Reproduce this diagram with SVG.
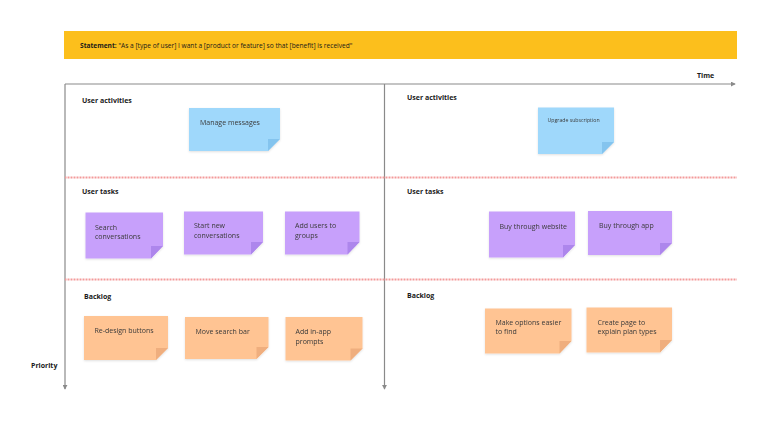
<svg xmlns="http://www.w3.org/2000/svg" width="768" height="432" viewBox="0 0 768 432">
<style>
.lbl{font-family:"Open Sans","DejaVu Sans",sans-serif;font-size:7px;font-weight:bold;fill:#1a1a1a}
.st{font-family:"Open Sans","DejaVu Sans",sans-serif;font-size:7px;fill:#3a3a3a}
.sm{font-size:5.2px}
.axis{stroke:#8a8a8a;stroke-width:1.2;fill:none}
.div{stroke:#f39a9a;stroke-width:2;stroke-dasharray:1 0.5;fill:none}
.blue .b{fill:#9fd8fb}.blue .f{fill:#84c4ee}
.purple .b{fill:#c7a0fb}.purple .f{fill:#ad86ec}
.orange .b{fill:#ffc493}.orange .f{fill:#efae7e}
.note{filter:url(#sh)}
</style>
<defs>
<marker id="ah" viewBox="0 0 6 6" refX="5" refY="3" markerWidth="5" markerHeight="5" orient="auto" markerUnits="userSpaceOnUse">
<path d="M0,0 L6,3 L0,6 Z" fill="#8a8a8a"/>
</marker>
<filter id="sh" x="-10%" y="-10%" width="120%" height="130%">
<feDropShadow dx="0" dy="1" stdDeviation="1" flood-color="#000" flood-opacity="0.12"/>
</filter>
</defs>
<rect width="768" height="432" fill="#ffffff"/>

<g id="statement">
<rect x="64" y="31" width="673" height="28" fill="#fcbf1c"/>
<text x="80" y="47.5" class="st" style="font-size:6.6px;fill:#1a1a1a"><tspan font-weight="bold">Statement:</tspan> "As a [type of user] I want a [product or feature] so that [benefit] is received"</text>
</g>

<g id="connectors">
<line class="axis" x1="65" y1="84" x2="735" y2="84" marker-end="url(#ah)"/>
<line class="axis" x1="65" y1="84" x2="65" y2="389" marker-end="url(#ah)"/>
<line class="axis" x1="384.5" y1="84" x2="384.5" y2="389" marker-end="url(#ah)"/>
<line class="div" x1="65" y1="177.5" x2="737" y2="177.5"/>
<line class="div" x1="65" y1="279.5" x2="737" y2="279.5"/>
</g>

<g id="axis-labels">
<text x="697" y="78" class="lbl">Time</text>
<text x="31" y="367.5" class="lbl">Priority</text>
</g>

<g id="section-labels">
<text x="82" y="102.5" class="lbl">User activities</text>
<text x="407" y="100" class="lbl">User activities</text>
<text x="82" y="194" class="lbl">User tasks</text>
<text x="407" y="193.5" class="lbl">User tasks</text>
<text x="84" y="298.5" class="lbl">Backlog</text>
<text x="407" y="297.5" class="lbl">Backlog</text>
</g>

<g id="manage-messages" class="note blue">
<path class="b" d="M189,108 H280 V139 L268,151 H189 Z"/>
<path class="f" d="M280,139 L268,151 L268,139 Z"/>
<text x="200" y="124.5" class="st">Manage messages</text>
</g>

<g id="upgrade-subscription" class="note blue">
<path class="b" d="M538,107.5 H614 V142 L602,154 H538 Z"/>
<path class="f" d="M614,142 L602,154 L602,142 Z"/>
<text x="547.5" y="122" class="st sm">Upgrade subscription</text>
</g>

<g id="search-conversations" class="note purple">
<path class="b" d="M85.5,212.5 H163 V246 L151,258.5 H85.5 Z"/>
<path class="f" d="M163,246 L151,258.5 L151,246 Z"/>
<text x="95" y="229.5" class="st">Search</text>
<text x="95" y="238.5" class="st">conversations</text>
</g>

<g id="start-new-conversations" class="note purple">
<path class="b" d="M184,211.5 H263 V242 L251,254.5 H184 Z"/>
<path class="f" d="M263,242 L251,254.5 L251,242 Z"/>
<text x="194" y="228" class="st">Start new</text>
<text x="194" y="237.5" class="st">conversations</text>
</g>

<g id="add-users-to-groups" class="note purple">
<path class="b" d="M285,211.5 H359.5 V242 L347.5,254.5 H285 Z"/>
<path class="f" d="M359.5,242 L347.5,254.5 L347.5,242 Z"/>
<text x="295" y="228" class="st">Add users to</text>
<text x="295" y="237.5" class="st">groups</text>
</g>

<g id="buy-through-website" class="note purple">
<path class="b" d="M489,211.5 H575 V245 L563,257.5 H489 Z"/>
<path class="f" d="M575,245 L563,257.5 L563,245 Z"/>
<text x="499.5" y="228.5" class="st">Buy through website</text>
</g>

<g id="buy-through-app" class="note purple">
<path class="b" d="M588,211 H672 V243 L660,255 H588 Z"/>
<path class="f" d="M672,243 L660,255 L660,243 Z"/>
<text x="599" y="228" class="st">Buy through app</text>
</g>

<g id="re-design-buttons" class="note orange">
<path class="b" d="M84,316 H168 V348 L156,360 H84 Z"/>
<path class="f" d="M168,348 L156,360 L156,348 Z"/>
<text x="94.5" y="332.5" class="st">Re-design buttons</text>
</g>

<g id="move-search-bar" class="note orange">
<path class="b" d="M185,317 H268.5 V347 L256.5,359 H185 Z"/>
<path class="f" d="M268.5,347 L256.5,359 L256.5,347 Z"/>
<text x="195.5" y="333.5" class="st">Move search bar</text>
</g>

<g id="add-in-app-prompts" class="note orange">
<path class="b" d="M285.5,317 H362.5 V348.5 L350.5,360.5 H285.5 Z"/>
<path class="f" d="M362.5,348.5 L350.5,360.5 L350.5,348.5 Z"/>
<text x="295.5" y="333.5" class="st">Add in-app</text>
<text x="295.5" y="343.5" class="st">prompts</text>
</g>

<g id="make-options-easier" class="note orange">
<path class="b" d="M485,308.5 H571.5 V341 L559.5,353.5 H485 Z"/>
<path class="f" d="M571.5,341 L559.5,353.5 L559.5,341 Z"/>
<text x="495.5" y="325" class="st">Make options easier</text>
<text x="495.5" y="334" class="st">to find</text>
</g>

<g id="create-page" class="note orange">
<path class="b" d="M586.5,307.5 H672 V340 L660,352.5 H586.5 Z"/>
<path class="f" d="M672,340 L660,352.5 L660,340 Z"/>
<text x="597.5" y="324.5" class="st">Create page to</text>
<text x="597.5" y="333.5" class="st">explain plan types</text>
</g>
</svg>
